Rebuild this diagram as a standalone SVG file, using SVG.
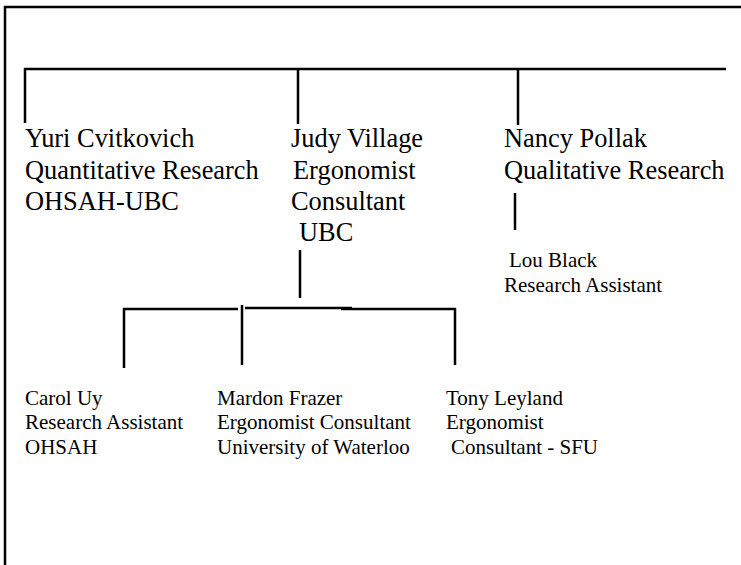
<svg xmlns="http://www.w3.org/2000/svg" width="741" height="565" viewBox="0 0 741 565">
<style>
.ln{fill:none;stroke:#000;stroke-width:2.5;stroke-linecap:butt}
.big{font-family:"Liberation Serif","Times New Roman",serif;font-size:26.4px;fill:#000}
.sm{font-family:"Liberation Serif","Times New Roman",serif;font-size:21px;fill:#000}
</style>
<rect width="741" height="565" fill="#fff"/>
<path class="ln" d="M5,565 V7 H741"/>
<g id="connectors">
<path class="ln" d="M25,123 V69 H726"/>
<path class="ln" d="M298,69 V124"/>
<path class="ln" d="M518,69 V125"/>
<path class="ln" d="M515,193 V230"/>
<path class="ln" d="M300,250 V298"/>
<path class="ln" d="M124,368 V309 H238"/>
<path class="ln" d="M242,365 V305"/>
<path class="ln" d="M245,308 H352"/>
<path class="ln" d="M341,309 H455 V365"/>
</g>
<g id="yuri">
<text class="big" x="25" y="147">Yuri Cvitkovich</text>
<text class="big" x="25" y="179">Quantitative Research</text>
<text class="big" x="25" y="210">OHSAH-UBC</text>
</g>
<g id="judy">
<text class="big" x="291" y="147">Judy Village</text>
<text class="big" x="293" y="179">Ergonomist</text>
<text class="big" x="291" y="210">Consultant</text>
<text class="big" x="299" y="241">UBC</text>
</g>
<g id="nancy">
<text class="big" x="504" y="147">Nancy Pollak</text>
<text class="big" x="504" y="179">Qualitative Research</text>
</g>
<g id="lou">
<text class="sm" x="509" y="267">Lou Black</text>
<text class="sm" x="504" y="292">Research Assistant</text>
</g>
<g id="carol">
<text class="sm" x="25" y="405">Carol Uy</text>
<text class="sm" x="25" y="429">Research Assistant</text>
<text class="sm" x="25" y="454">OHSAH</text>
</g>
<g id="mardon">
<text class="sm" x="217" y="405">Mardon Frazer</text>
<text class="sm" x="217" y="429">Ergonomist Consultant</text>
<text class="sm" x="217" y="454">University of Waterloo</text>
</g>
<g id="tony">
<text class="sm" x="446" y="405">Tony Leyland</text>
<text class="sm" x="446" y="429">Ergonomist</text>
<text class="sm" x="451" y="454">Consultant - SFU</text>
</g>
</svg>
